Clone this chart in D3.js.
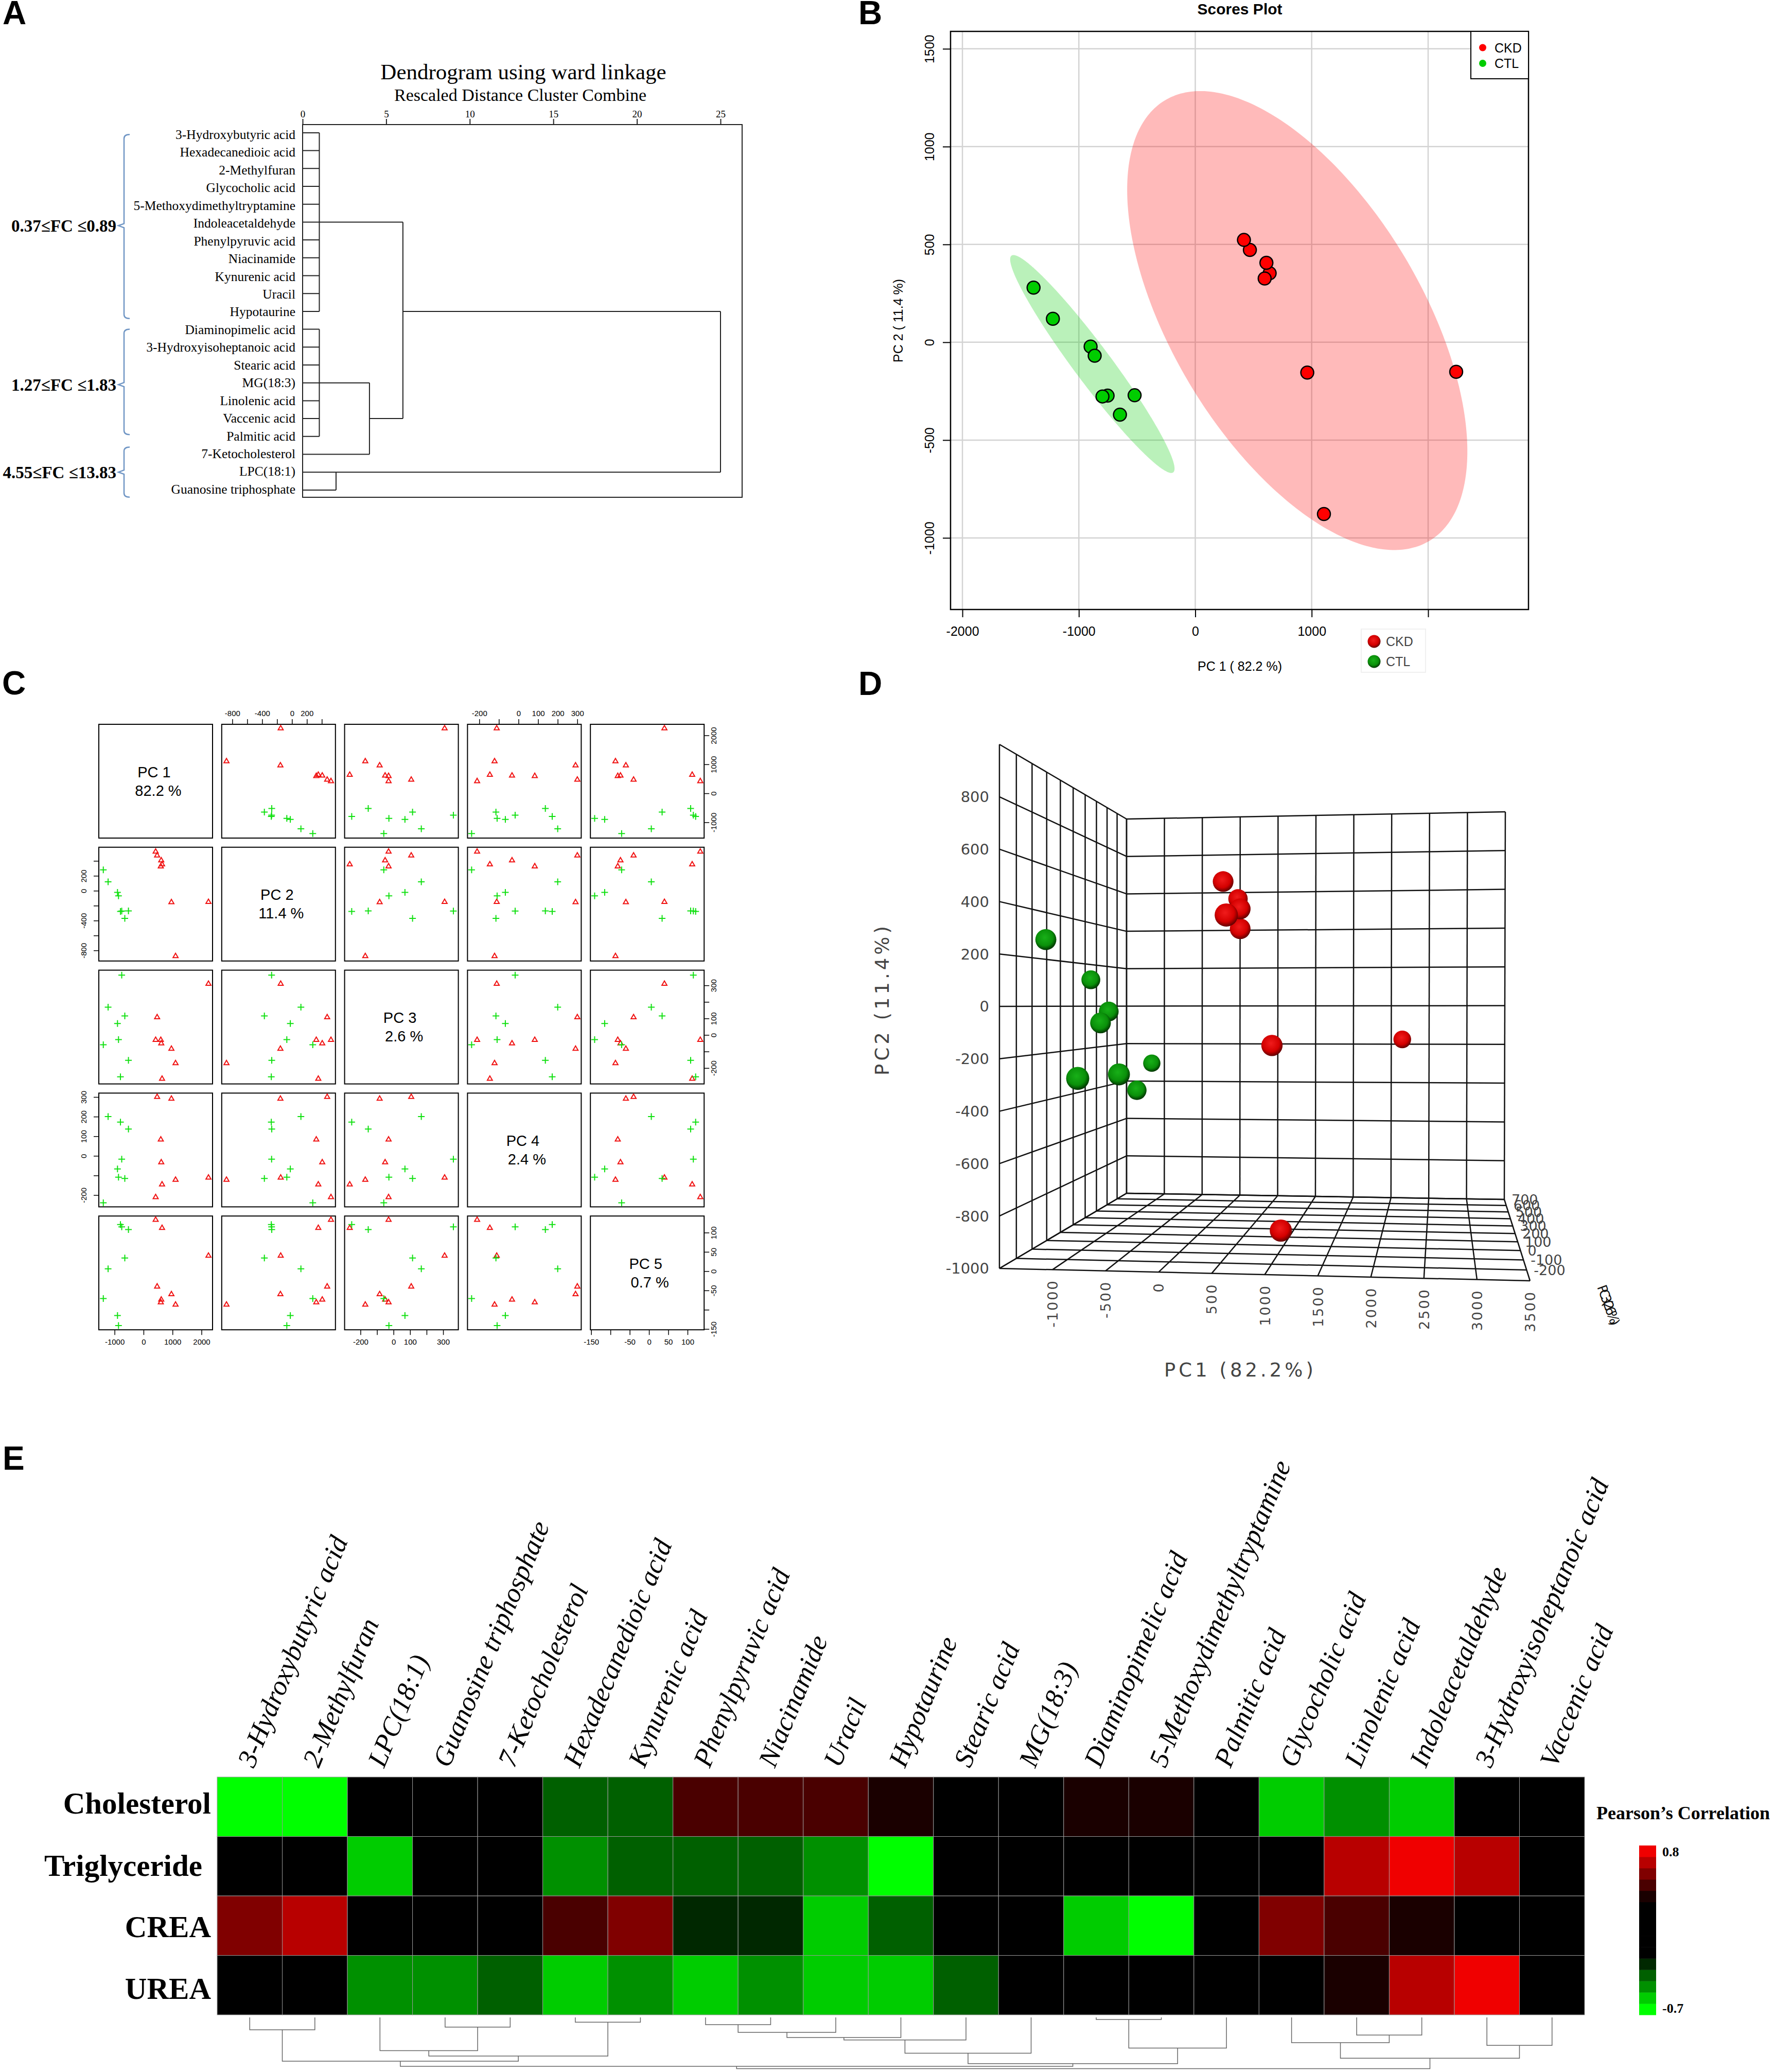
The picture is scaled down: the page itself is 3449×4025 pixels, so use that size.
<!DOCTYPE html>
<html>
<head>
<meta charset="utf-8">
<script src="https://cdn.jsdelivr.net/npm/d3@7/dist/d3.min.js"></script>
<style>
  body { margin: 0; background: #fff; }
  text { font-family: "Liberation Sans", sans-serif; fill: #000; }
  .serif text, text.serif { font-family: "Liberation Serif", serif; }
  .dj text, text.dj { font-family: "DejaVu Sans", sans-serif; fill: #444; }
</style>
</head>
<body>
<svg id="fig" width="3449" height="4025"></svg>
<script>
// metabolites in the order of the dendrogram (panel A)
const dendroLabels = ["3-Hydroxybutyric acid", "Hexadecanedioic acid", "2-Methylfuran", "Glycocholic acid",
  "5-Methoxydimethyltryptamine", "Indoleacetaldehyde", "Phenylpyruvic acid", "Niacinamide", "Kynurenic acid",
  "Uracil", "Hypotaurine", "Diaminopimelic acid", "3-Hydroxyisoheptanoic acid", "Stearic acid", "MG(18:3)",
  "Linolenic acid", "Vaccenic acid", "Palmitic acid", "7-Ketocholesterol", "LPC(18:1)", "Guanosine triphosphate"];
// each merge: child rows or earlier merges, rescaled distance, row where it leaves
const dendroMerges = [
  { rows: [0, 1, 2, 3, 4, 5, 6, 7, 8, 9, 10], kids: [], h: 1, at: 5 },
  { rows: [11, 12, 13, 14, 15, 16, 17], kids: [], h: 1, at: 14 },
  { rows: [18], kids: [1], h: 4, at: 16 },
  { rows: [], kids: [0, 2], h: 6, at: 10 },
  { rows: [19, 20], kids: [], h: 2, at: 19 },
  { rows: [], kids: [3, 4], h: 25, at: 10 }
];
const dendroTicks = [0, 5, 10, 15, 20, 25];
const fcGroups = [
  { label: "0.37≤FC ≤0.89", first: 0.1, last: 10.4, mid: 5.2 },
  { label: "1.27≤FC ≤1.83", first: 11, last: 16.9, mid: 14.1 },
  { label: "4.55≤FC ≤13.83", first: 17.6, last: 20.4, mid: 19 }
];

// PCA scores, 8 CKD samples then 8 CTL samples
const sampleGroup = ["CKD", "CKD", "CKD", "CKD", "CKD", "CKD", "CKD", "CKD", "CTL", "CTL", "CTL", "CTL", "CTL", "CTL", "CTL", "CTL"];
const pc1 = [2241, 1105, 962, 639, 611, 596, 469, 418, -1389, -1223, -899, -864, -753, -797, -521, -647];
const pc2 = [-151, -878, -155, 353, 406, 326, 472, 523, 279, 120, -22, -69, -273, -277, -271, -370];
const pc3 = [309, -171, -84, -265, -51, -30, 107, -30, -59, 168, 69, -28, 362, -253, -153, 115];
const pc4 = [-111, -122, 291, -146, -33, 83, 300, -211, -239, 200, -67, -109, -17, 172, 137, -115];
const pc5 = [40, -87, -60, 112, -74, -81, -40, 133, -71, 6, -115, -141, 115, 121, 108, 34];
const pcNames = ["PC 1", "PC 2", "PC 3", "PC 4", "PC 5"];
const pcVariance = ["82.2 %", "11.4 %", "2.6 %", "2.4 %", "0.7 %"];

// 95% ellipses of the scores plot: centre, half extents, correlation
const scoreEllipses = [
  { group: "CKD", cx: 876, cy: 111, ax: 1461, ay: 1173, rho: -0.57 },
  { group: "CTL", cx: -884, cy: -111, ax: 706, ay: 557, rho: -0.96 }
];
const scoreXTicks = [-2000, -1000, 0, 1000, 2000];
const scoreYTicks = [-1000, -500, 0, 500, 1000, 1500];

// pairs panel: axis range, ticks and which tick labels survive
const pairDomains = [[-1544, 2382], [-942, 583], [-296, 392], [-260, 320], [-152, 143]];
const pairTicks = [[-1000, 0, 1000, 2000], [-800, -600, -400, -200, 0, 200, 400], [-200, -100, 0, 100, 200, 300],
  [-200, -100, 0, 100, 200, 300], [-150, -100, -50, 0, 50, 100]];
const pairLabels = [[-1000, 0, 1000, 2000], [-800, -400, 0, 200], [-200, 0, 100, 300],
  [-200, 0, 100, 200, 300], [-150, -50, 0, 50, 100]];

// 3D panel axes
const cubeX = [-1500, -1000, -500, 0, 500, 1000, 1500, 2000, 2500, 3000, 3500];
const cubeY = [-1000, -800, -600, -400, -200, 0, 200, 400, 600, 800, 1000];
const cubeZ = [-300, -200, -100, 0, 100, 200, 300, 400, 500, 600, 700];

// heatmap
const heatColumns = ["3-Hydroxybutyric acid", "2-Methylfuran", "LPC(18:1)", "Guanosine triphosphate", "7-Ketocholesterol",
  "Hexadecanedioic acid", "Kynurenic acid", "Phenylpyruvic acid", "Niacinamide", "Uracil", "Hypotaurine", "Stearic acid",
  "MG(18:3)", "Diaminopimelic acid", "5-Methoxydimethyltryptamine", "Palmitic acid", "Glycocholic acid", "Linolenic acid",
  "Indoleacetaldehyde", "3-Hydroxyisoheptanoic acid", "Vaccenic acid"];
const heatRows = ["Cholesterol", "Triglyceride", "CREA", "UREA"];
const cholesterol = [-.65, -.65, 0, 0, 0, -.35, -.35, .45, .45, .45, .35, 0, 0, .35, .35, 0, -.55, -.45, -.55, 0, 0];
const triglyceride = [0, 0, -.55, 0, 0, -.45, -.35, -.35, -.35, -.45, -.65, 0, 0, 0, 0, 0, 0, .65, .75, .65, 0];
const crea = [.55, .65, 0, 0, 0, .45, .55, -.25, -.25, -.55, -.35, 0, 0, -.55, -.65, 0, .55, .45, .35, 0, 0];
const urea = [0, 0, -.45, -.45, -.35, -.55, -.45, -.55, -.45, -.55, -.55, -.35, 0, 0, 0, 0, 0, .35, .65, .75, 0];
const heatValues = [cholesterol, triglyceride, crea, urea];
const heatBands = ["#00ff00", "#00cc00", "#009000", "#006000", "#002800", "#000000", "#000000", "#000000", "#000000", "#000000",
  "#1a0000", "#4a0000", "#800000", "#b80000", "#f00000"];
// column clustering: [left, right, height], ids above 20 are earlier merges
const heatMerges = [[0, 1, 23.9], [3, 4, 18.7], [2, 22, 64.6], [5, 6, 9.2], [23, 24, 74.9], [21, 25, 84.9], [7, 8, 14], [27, 9, 29.1],
  [28, 10, 39], [29, 11, 43.8], [30, 12, 69.4], [13, 14, 4], [32, 15, 59.4], [31, 33, 89.7], [26, 34, 94.9], [17, 18, 34.3],
  [16, 36, 49], [19, 20, 54.2], [37, 38, 79.3], [35, 39, 99.6]];

const svg = d3.select("#fig");
const groupColor = { CKD: "#ff0000", CTL: "#00cd00" };

// glossy balls used in panel D and in the pasted legend of panel B
const defs = svg.append("defs");
[["ballCKD", "#f01c1c", "#d40000", "#600000"], ["ballCTL", "#18b018", "#0a900a", "#003400"]].forEach(b => {
  const g = defs.append("radialGradient").attr("id", b[0]).attr("cx", "45%").attr("cy", "40%").attr("r", "60%");
  g.append("stop").attr("offset", "0%").attr("stop-color", b[1]);
  g.append("stop").attr("offset", "65%").attr("stop-color", b[2]);
  g.append("stop").attr("offset", "100%").attr("stop-color", b[3]);
});

// panel letters
[["A", 5, 47], ["B", 1668, 47], ["C", 4, 1349], ["D", 1668, 1350], ["E", 5, 2855]].forEach(l => {
  svg.append("text").attr("x", l[1]).attr("y", l[2]).attr("font-size", 64).attr("font-weight", "bold").text(l[0]);
});

// ---------- A: dendrogram
function drawDendrogram() {
  const g = svg.append("g").attr("class", "serif");
  const x = d3.scaleLinear().domain([0, 25]).range([588, 1400]);
  const y = d3.scaleLinear().domain([0, 20]).range([257.9, 951.9]);
  const labelY = d3.scaleLinear().domain([0, 20]).range([261, 950]);

  g.append("rect").attr("x", 588).attr("y", 242).attr("width", 854).attr("height", 724)
    .attr("fill", "none").attr("stroke", "#222").attr("stroke-width", 2);

  const axis = g.append("g").attr("transform", "translate(0,242)")
    .call(d3.axisTop(x).tickValues(dendroTicks).tickSize(11).tickSizeOuter(0));
  axis.select(".domain").remove();
  axis.selectAll("line").attr("stroke", "#222").attr("stroke-width", 2);
  axis.selectAll("text").attr("font-size", 19).attr("font-family", "Liberation Serif");

  g.append("text").attr("x", 1017).attr("y", 154).attr("text-anchor", "middle").attr("font-size", 43).text("Dendrogram using ward linkage");
  g.append("text").attr("x", 1011).attr("y", 196).attr("text-anchor", "middle").attr("font-size", 34).text("Rescaled Distance Cluster Combine");

  g.selectAll(".leaf").data(dendroLabels).join("text").attr("class", "leaf")
    .attr("x", 574).attr("y", (d, i) => labelY(i)).attr("dy", ".35em")
    .attr("text-anchor", "end").attr("font-size", 25.5).text(d => d);

  const seg = (x1, y1, x2, y2) => g.append("line").attr("x1", x1).attr("y1", y1).attr("x2", x2).attr("y2", y2)
    .attr("stroke", "#222").attr("stroke-width", 2);
  dendroMerges.forEach(m => {
    const ends = m.rows.concat(m.kids.map(k => dendroMerges[k].at));
    seg(x(m.h), y(d3.min(ends)), x(m.h), y(d3.max(ends)));
    m.rows.forEach(r => seg(x(0), y(r), x(m.h), y(r)));
    m.kids.forEach(k => seg(x(dendroMerges[k].h), y(dendroMerges[k].at), x(m.h), y(dendroMerges[k].at)));
  });

  // curly brackets with fold change ranges
  fcGroups.forEach(f => {
    const p = d3.path();
    const top = y(f.first), bot = y(f.last), mid = y(f.mid);
    p.moveTo(252, top); p.quadraticCurveTo(241, top, 241, top + 8);
    p.lineTo(241, mid - 4); p.lineTo(230, mid); p.lineTo(241, mid + 4);
    p.lineTo(241, bot - 8); p.quadraticCurveTo(241, bot, 252, bot);
    g.append("path").attr("d", p.toString()).attr("fill", "none").attr("stroke", "#6f95c4").attr("stroke-width", 2.5);
    g.append("text").attr("x", 226).attr("y", mid).attr("dy", ".35em").attr("text-anchor", "end")
      .attr("font-size", 33).attr("font-weight", "bold").text(f.label);
  });
}

// ---------- B: scores plot
function drawScores() {
  const g = svg.append("g");
  const left = 1847, right = 2970, top = 61, bottom = 1184;
  const x = d3.scaleLinear().domain([-2102, 2862]).range([left, right]);
  const y = d3.scaleLinear().domain([-1366, 1589]).range([bottom, top]);

  g.selectAll(".gx").data(scoreXTicks).join("line").attr("x1", d => x(d)).attr("x2", d => x(d)).attr("y1", top).attr("y2", bottom)
    .attr("stroke", "#d3d3d3").attr("stroke-width", 2.5);
  g.selectAll(".gy").data(scoreYTicks).join("line").attr("y1", d => y(d)).attr("y2", d => y(d)).attr("x1", left).attr("x2", right)
    .attr("stroke", "#d3d3d3").attr("stroke-width", 2.5);

  const line = d3.line().x(d => x(d[0])).y(d => y(d[1])).curve(d3.curveLinearClosed);
  scoreEllipses.forEach(e => {
    const pts = d3.range(0, 2 * Math.PI, 0.02).map(t => [
      e.cx + e.ax * (e.rho * Math.sin(t) + Math.sqrt(1 - e.rho * e.rho) * Math.cos(t)),
      e.cy + e.ay * Math.sin(t)
    ]);
    g.append("path").attr("d", line(pts)).attr("fill", groupColor[e.group]).attr("fill-opacity", 0.27);
  });

  g.selectAll(".pt").data(pc1).join("circle")
    .attr("cx", d => x(d)).attr("cy", (d, i) => y(pc2[i])).attr("r", 12.5)
    .attr("fill", (d, i) => groupColor[sampleGroup[i]]).attr("stroke", "#000").attr("stroke-width", 2.5);

  g.append("rect").attr("x", left).attr("y", top).attr("width", right - left).attr("height", bottom - top)
    .attr("fill", "none").attr("stroke", "#000").attr("stroke-width", 2.5);

  const ax = g.append("g").attr("transform", `translate(0,${bottom})`)
    .call(d3.axisBottom(x).tickValues(scoreXTicks).tickFormat(d => d).tickSize(15).tickPadding(18));
  ax.select(".domain").remove();
  const ay = g.append("g").attr("transform", `translate(${left},0)`)
    .call(d3.axisLeft(y).tickValues(scoreYTicks).tickFormat(d => d).tickSize(15).tickPadding(10));
  ay.select(".domain").remove();
  ax.selectAll("text").attr("font-size", 25);
  ay.selectAll("text").attr("font-size", 25).attr("text-anchor", "middle").attr("dy", 0)
    .attr("x", -32).attr("y", 0).attr("transform", "rotate(-90,-32,0)");
  [ax, ay].forEach(a => a.selectAll("line").attr("stroke", "#000").attr("stroke-width", 2));

  g.append("text").attr("x", 2409).attr("y", 28).attr("text-anchor", "middle").attr("font-size", 30).attr("font-weight", "bold").text("Scores Plot");
  g.append("text").attr("x", 2409).attr("y", 1303).attr("text-anchor", "middle").attr("font-size", 25).text("PC 1 ( 82.2 %)");
  g.append("text").attr("transform", "translate(1754,623) rotate(-90)").attr("text-anchor", "middle").attr("font-size", 25).text("PC 2 ( 11.4 %)");

  // legend inside the box
  g.append("rect").attr("x", 2858).attr("y", top).attr("width", 112).attr("height", 92).attr("fill", "#fff").attr("stroke", "#000").attr("stroke-width", 2);
  ["CKD", "CTL"].forEach((n, i) => {
    g.append("circle").attr("cx", 2881).attr("cy", 92.5 + i * 30.5).attr("r", 7).attr("fill", groupColor[n]);
    g.append("text").attr("x", 2904).attr("y", 101.5 + i * 30.5).attr("font-size", 25).text(n);
  });

  // legend pasted under the plot, it hides the 2000 label
  g.append("rect").attr("x", 2645).attr("y", 1205).attr("width", 185).attr("height", 100).attr("fill", "#fff");
  g.append("rect").attr("x", 2645).attr("y", 1222).attr("width", 125).attr("height", 84).attr("fill", "none").attr("stroke", "#f0f0f0").attr("stroke-width", 2);
  ["CKD", "CTL"].forEach((n, i) => {
    g.append("circle").attr("cx", 2670).attr("cy", 1246 + i * 39).attr("r", 12.5).attr("fill", `url(#ball${n})`);
    g.append("text").attr("x", 2693).attr("y", 1255 + i * 39).attr("font-size", 25).style("fill", "#444").text(n);
  });
}

// ---------- C: scatter matrix
function drawPairs() {
  const g = svg.append("g");
  const pcs = [pc1, pc2, pc3, pc4, pc5];
  const size = 221, step = 238.8, x0 = 192, y0 = 1407;
  const axisFor = (col, row) => {
    const sx = d3.scaleLinear().domain(pairDomains[col]).range([0, size]);
    const sy = d3.scaleLinear().domain(pairDomains[row]).range([size, 0]);
    return [sx, sy];
  };

  pcs.forEach((_, row) => pcs.forEach((_, col) => {
    const cell = g.append("g").attr("transform", `translate(${x0 + col * step},${y0 + row * step})`);
    cell.append("rect").attr("width", size).attr("height", size).attr("fill", "none").attr("stroke", "#000").attr("stroke-width", 2);
    if (row === col) {
      cell.append("text").attr("x", size / 2 - 3).attr("y", size / 2 - 8).attr("text-anchor", "middle").attr("font-size", 29).text(pcNames[row]);
      cell.append("text").attr("x", size / 2 + 5).attr("y", size / 2 + 28).attr("text-anchor", "middle").attr("font-size", 29).text(pcVariance[row]);
      return;
    }
    const [sx, sy] = axisFor(col, row);
    pcs[col].forEach((v, i) => {
      const px = sx(v), py = sy(pcs[row][i]);
      const mark = cell.append("path").attr("transform", `translate(${px},${py})`).attr("fill", "none").attr("stroke-width", 2);
      if (sampleGroup[i] === "CKD") mark.attr("d", d3.symbol(d3.symbolTriangle, 42)()).attr("stroke", "#f01010");
      else mark.attr("d", "M-6.5,0H6.5M0,-6.5V6.5").attr("stroke", "#10e010");
    });
  }));

  const fmt = i => d => pairLabels[i].includes(d) ? d : "";
  const tidy = a => {
    a.select(".domain").remove();
    a.selectAll("line").attr("stroke", "#000").attr("stroke-width", 1.5);
    a.selectAll("text").attr("font-size", 15);
  };
  const rotate = (a, sign) => a.selectAll("text")
    .attr("text-anchor", "middle").attr("dy", 0).attr("x", sign * 24).attr("y", 0).attr("transform", `rotate(-90,${sign * 24},0)`);
  [1, 3].forEach(c => {
    const sx = axisFor(c, c)[0];
    const a = g.append("g").attr("transform", `translate(${x0 + c * step},${y0})`)
      .call(d3.axisTop(sx).tickValues(pairTicks[c]).tickFormat(fmt(c)).tickSize(10).tickPadding(6));
    tidy(a);
  });
  [0, 2, 4].forEach(c => {
    const sx = axisFor(c, c)[0];
    const a = g.append("g").attr("transform", `translate(${x0 + c * step},${y0 + 4 * step + size})`)
      .call(d3.axisBottom(sx).tickValues(pairTicks[c]).tickFormat(fmt(c)).tickSize(10).tickPadding(8));
    tidy(a);
  });
  [1, 3].forEach(r => {
    const sy = axisFor(r, r)[1];
    const a = g.append("g").attr("transform", `translate(${x0},${y0 + r * step})`)
      .call(d3.axisLeft(sy).tickValues(pairTicks[r]).tickFormat(fmt(r)).tickSize(10));
    tidy(a); rotate(a, -1);
  });
  [0, 2, 4].forEach(r => {
    const sy = axisFor(r, r)[1];
    const a = g.append("g").attr("transform", `translate(${x0 + 4 * step + size},${y0 + r * step})`)
      .call(d3.axisRight(sy).tickValues(pairTicks[r]).tickFormat(fmt(r)).tickSize(10));
    tidy(a); rotate(a, 1);
  });
}

// ---------- D: 3D scatter
function drawCube() {
  const g = svg.append("g");
  const u = d3.scaleLinear().domain([-1500, 3500]).range([0, 1]);
  const v = d3.scaleLinear().domain([-1000, 1000]).range([0, 1]);
  const w = d3.scaleLinear().domain([-300, 700]).range([0, 1]);
  const depth = z => { const t = w(z); return t / (t + 0.724 * (1 - t)); };
  const bilerp = (q, a, b) => {
    const bx = q.bl[0] + (q.br[0] - q.bl[0]) * a, by = q.bl[1] + (q.br[1] - q.bl[1]) * a;
    const tx = q.tl[0] + (q.tr[0] - q.tl[0]) * a, ty = q.tl[1] + (q.tr[1] - q.tl[1]) * a;
    return [bx + (tx - bx) * b, by + (ty - by) * b];
  };
  const front = { bl: [1942, 2464], br: [2973, 2488], tl: [1942, 1446], tr: [2973, 1434] };
  const back = { bl: [2189, 2318], br: [2923, 2330], tl: [2189, 1591], tr: [2925, 1577] };
  const project = (px, py, pz) => {
    const f = bilerp(front, u(px), v(py)), b = bilerp(back, u(px), v(py)), s = depth(pz);
    return [f[0] + (b[0] - f[0]) * s, f[1] + (b[1] - f[1]) * s];
  };
  const seg = (a, b) => g.append("line").attr("x1", a[0]).attr("y1", a[1]).attr("x2", b[0]).attr("y2", b[1])
    .attr("stroke", "#111").attr("stroke-width", 2.5);

  cubeX.forEach(a => {
    seg(project(a, -1000, 700), project(a, 1000, 700));
    seg(project(a, -1000, -300), project(a, -1000, 700));
  });
  cubeY.forEach(b => {
    seg(project(-1500, b, 700), project(3500, b, 700));
    seg(project(-1500, b, -300), project(-1500, b, 700));
  });
  cubeZ.forEach(c => {
    seg(project(-1500, -1000, c), project(-1500, 1000, c));
    seg(project(-1500, -1000, c), project(3500, -1000, c));
  });

  // far balls first, the viewer draws them a little left of the grid
  const order = d3.range(pc1.length).sort((a, b) => pc3[b] - pc3[a]);
  order.forEach(i => {
    const p = project(pc1[i], pc2[i], pc3[i]);
    g.append("circle").attr("cx", p[0] - 6).attr("cy", p[1]).attr("r", 23 - 8.5 * depth(pc3[i]))
      .attr("fill", `url(#ball${sampleGroup[i]})`);
  });

  const lab = g.append("g").attr("class", "dj");
  cubeY.filter(d => d < 1000).forEach(d => {
    lab.append("text").attr("x", 1922).attr("y", project(-1500, d, -300)[1]).attr("dy", ".36em")
      .attr("text-anchor", "end").attr("font-size", 29).text(d);
  });
  cubeX.slice(1).forEach(d => {
    const p = project(d, -1000, -300);
    lab.append("text").attr("transform", `translate(${p[0] + 10},${p[1] + 19}) rotate(-90)`)
      .attr("text-anchor", "end").attr("font-size", 27).attr("letter-spacing", 3).text(d);
  });
  cubeZ.slice(1).forEach(d => {
    const p = project(3500, -1000, d);
    lab.append("text").attr("x", p[0] + 14).attr("y", p[1]).attr("dy", ".36em").attr("font-size", 27).text(d);
  });
  lab.append("text").attr("x", 2410).attr("y", 2674).attr("text-anchor", "middle").attr("font-size", 37).attr("letter-spacing", 6).text("PC1 (82.2%)");
  lab.append("text").attr("transform", "translate(1727,1941) rotate(-90)").attr("text-anchor", "middle").attr("font-size", 37).attr("letter-spacing", 6).text("PC2 (11.4%)");
  // third axis title, squeezed to a blot by the viewer
  lab.append("text").attr("transform", "translate(3103,2500) rotate(70)").attr("font-size", 26).attr("letter-spacing", -7).style("fill", "#111").text("PC3 (2.6%)");
}

// ---------- E: heatmap
function drawHeatmap() {
  const g = svg.append("g");
  const x = d3.scaleBand().domain(heatColumns).range([422, 3079]);
  const y = d3.scaleBand().domain(heatRows).range([3452, 3914]);
  const color = d3.scaleQuantize().domain([-0.7, 0.8]).range(heatBands);

  heatValues.forEach((row, r) => {
    g.selectAll(".c" + r).data(row).join("rect")
      .attr("x", (d, i) => x(heatColumns[i])).attr("y", y(heatRows[r]))
      .attr("width", x.bandwidth()).attr("height", y.bandwidth())
      .attr("fill", d => color(d)).attr("stroke", "#9a9a9a").attr("stroke-width", 1);
  });

  const serif = g.append("g").attr("class", "serif");
  const rowEnd = [410, 393, 410, 410];
  const rowCentre = [3504, 3625, 3744, 3864];
  heatRows.forEach((n, i) => {
    serif.append("text").attr("x", rowEnd[i]).attr("y", rowCentre[i]).attr("dy", ".33em")
      .attr("text-anchor", "end").attr("font-size", 59).attr("font-weight", "bold").text(n);
  });
  heatColumns.forEach(n => {
    serif.append("text").attr("transform", `translate(${x(n) + x.bandwidth() / 2 + 8},3436) rotate(-67.5)`)
      .attr("font-size", 53).attr("font-style", "italic").text(n);
  });

  // column dendrogram
  const h = d3.scaleLinear().domain([0, 106]).range([3919, 4025]);
  const nodes = heatColumns.map(n => ({ x: x(n) + x.bandwidth() / 2, h: 0 }));
  heatMerges.forEach(m => {
    const a = nodes[m[0]], b = nodes[m[1]];
    const p = d3.path();
    p.moveTo(a.x, h(a.h)); p.lineTo(a.x, h(m[2])); p.lineTo(b.x, h(m[2])); p.lineTo(b.x, h(b.h));
    g.append("path").attr("d", p.toString()).attr("fill", "none").attr("stroke", "#666").attr("stroke-width", 1.5);
    nodes.push({ x: (a.x + b.x) / 2, h: m[2] });
  });

  // colour key
  const key = d3.scaleBand().domain(d3.range(15)).range([3914, 3585]);
  g.selectAll(".key").data(heatBands).join("rect")
    .attr("x", 3185).attr("y", (d, i) => key(i)).attr("width", 33).attr("height", key.bandwidth() + 0.5).attr("fill", d => d);
  serif.append("text").attr("x", 3102).attr("y", 3534).attr("font-size", 36).attr("font-weight", "bold").text("Pearson’s Correlation");
  serif.append("text").attr("x", 3230).attr("y", 3606).attr("font-size", 26).attr("font-weight", "bold").text("0.8");
  serif.append("text").attr("x", 3230).attr("y", 3910).attr("font-size", 26).attr("font-weight", "bold").text("-0.7");
}

drawDendrogram();
drawScores();
drawPairs();
drawCube();
drawHeatmap();
</script>
</body>
</html>
